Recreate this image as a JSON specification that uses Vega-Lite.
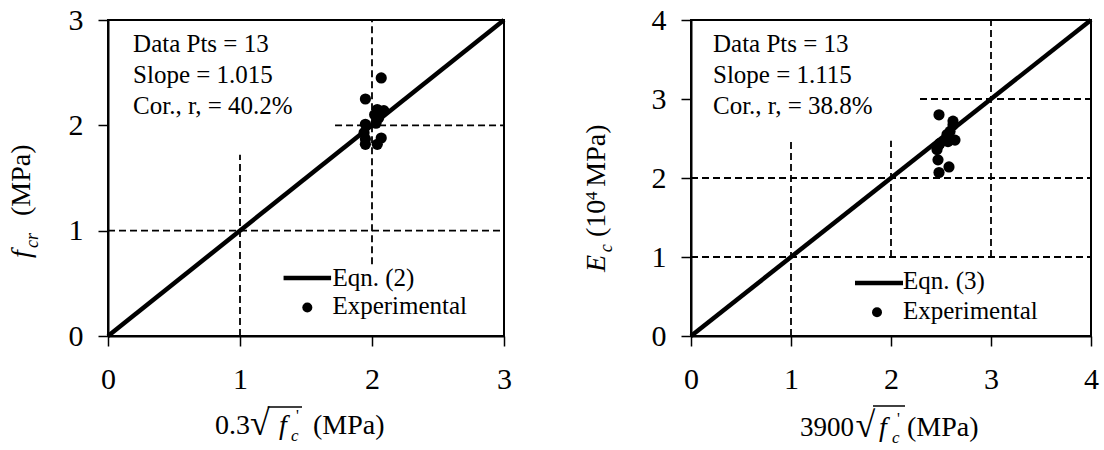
{
  "$schema": "https://vega.github.io/schema/vega-lite/v6.json",
  "padding": {"left": 6, "top": 4, "right": 0, "bottom": 0},
  "bounds": "flush",
  "spacing": 187,
  "datasets": {
    "fcr": [
      {"xv": 2.07, "fcr": 2.45}, {"xv": 1.95, "fcr": 2.25}, {"xv": 2.04, "fcr": 2.15},
      {"xv": 2.09, "fcr": 2.14}, {"xv": 2.05, "fcr": 2.07}, {"xv": 2.03, "fcr": 2.02},
      {"xv": 1.95, "fcr": 2.01}, {"xv": 1.94, "fcr": 1.93}, {"xv": 1.95, "fcr": 1.87},
      {"xv": 1.95, "fcr": 1.82}, {"xv": 2.04, "fcr": 1.82}, {"xv": 2.07, "fcr": 1.88},
      {"xv": 2.02, "fcr": 2.10}
    ],
    "ec": [
      {"xv": 2.48, "ec": 2.80}, {"xv": 2.62, "ec": 2.72}, {"xv": 2.62, "ec": 2.67},
      {"xv": 2.56, "ec": 2.55}, {"xv": 2.59, "ec": 2.59}, {"xv": 2.64, "ec": 2.48},
      {"xv": 2.57, "ec": 2.46}, {"xv": 2.49, "ec": 2.44}, {"xv": 2.48, "ec": 2.42},
      {"xv": 2.46, "ec": 2.36}, {"xv": 2.47, "ec": 2.23}, {"xv": 2.58, "ec": 2.14},
      {"xv": 2.48, "ec": 2.07}
    ],
    "eqn2": [{"xv": 0, "yv": 0}, {"xv": 3, "yv": 3}],
    "eqn3": [{"xv": 0, "yv": 0}, {"xv": 4, "yv": 4}],
    "one": [{}],
    "gridL": [
      {"x1": 1, "y1": 0, "x2": 1, "y2": 1.72},
      {"x1": 2, "y1": 0.68, "x2": 2, "y2": 3},
      {"x1": 0, "y1": 1, "x2": 3, "y2": 1},
      {"x1": 1.72, "y1": 2, "x2": 3, "y2": 2}
    ],
    "gridR": [
      {"x1": 1, "y1": 0, "x2": 1, "y2": 2.47},
      {"x1": 2, "y1": 1, "x2": 2, "y2": 2.47},
      {"x1": 3, "y1": 1, "x2": 3, "y2": 4},
      {"x1": 0, "y1": 1, "x2": 4, "y2": 1},
      {"x1": 0, "y1": 2, "x2": 4, "y2": 2},
      {"x1": 2.29, "y1": 3, "x2": 4, "y2": 3}
    ]
  },
  "hconcat": [
    {
      "width": 396,
      "height": 316,
      "layer": [
        {
          "data": {"name": "gridL"},
          "mark": {"type": "rule", "color": "black", "strokeWidth": 1.8, "strokeDash": [7, 4]},
          "encoding": {
            "x": {"field": "x1", "type": "quantitative", "title": null,
                  "scale": {"domain": [0, 3], "nice": false},
                  "axis": {"values": [0, 1, 2, 3], "format": "d", "labelPadding": 18}},
            "y": {"field": "y1", "type": "quantitative", "title": null,
                  "scale": {"domain": [0, 3], "nice": false},
                  "axis": {"values": [0, 1, 2, 3], "format": "d", "labelPadding": 15}},
            "x2": {"field": "x2"},
            "y2": {"field": "y2"}
          }
        },
        {
          "data": {"name": "eqn2"},
          "mark": {"type": "line", "color": "black", "strokeWidth": 4.5},
          "encoding": {
            "x": {"field": "xv", "type": "quantitative", "title": null},
            "y": {"field": "yv", "type": "quantitative", "title": null}
          }
        },
        {
          "data": {"name": "fcr"},
          "mark": {"type": "circle", "color": "black", "opacity": 1, "size": 125},
          "encoding": {
            "x": {"field": "xv", "type": "quantitative", "title": null},
            "y": {"field": "fcr", "type": "quantitative", "title": null}
          }
        },
        {
          "data": {"name": "one"},
          "mark": {"type": "text", "font": "Liberation Serif, Times New Roman, serif", "fontSize": 25, "align": "left", "baseline": "alphabetic", "lineHeight": 31, "color": "black"},
          "encoding": {
            "x": {"datum": 0.19, "type": "quantitative", "title": null},
            "y": {"datum": 2.696, "type": "quantitative", "title": null},
            "text": {"value": ["Data Pts = 13", "Slope = 1.015", "Cor., r, = 40.2%"]}
          }
        },
        {
          "data": {"name": "one"},
          "mark": {"type": "rule", "color": "black", "strokeWidth": 4.5},
          "encoding": {
            "x": {"datum": 1.33, "type": "quantitative", "title": null},
            "x2": {"datum": 1.69},
            "y": {"datum": 0.55, "type": "quantitative", "title": null}
          }
        },
        {
          "data": {"name": "one"},
          "mark": {"type": "circle", "color": "black", "opacity": 1, "size": 100},
          "encoding": {
            "x": {"datum": 1.51, "type": "quantitative", "title": null},
            "y": {"datum": 0.27, "type": "quantitative", "title": null}
          }
        },
        {
          "data": {"name": "one"},
          "mark": {"type": "text", "font": "Liberation Serif, Times New Roman, serif", "fontSize": 25, "align": "left", "baseline": "middle", "color": "black"},
          "encoding": {
            "x": {"datum": 1.70, "type": "quantitative", "title": null},
            "y": {"datum": 0.55, "type": "quantitative", "title": null},
            "text": {"value": "Eqn. (2)"}
          }
        },
        {
          "data": {"name": "one"},
          "mark": {"type": "text", "font": "Liberation Serif, Times New Roman, serif", "fontSize": 25, "align": "left", "baseline": "middle", "color": "black"},
          "encoding": {
            "x": {"datum": 1.70, "type": "quantitative", "title": null},
            "y": {"datum": 0.285, "type": "quantitative", "title": null},
            "text": {"value": "Experimental"}
          }
        },
        {
          "data": {"name": "one"},
          "mark": {"type": "text", "font": "Liberation Serif, Times New Roman, serif", "fontSize": 28, "align": "left", "baseline": "alphabetic", "color": "black"},
          "encoding": {
            "x": {"datum": 0.811, "type": "quantitative", "title": null},
            "y": {"datum": -0.93, "type": "quantitative", "title": null},
            "text": {"value": "0.3"}
          }
        },
        {
          "data": {"name": "one"},
          "mark": {"type": "text", "font": "Liberation Serif, Times New Roman, serif", "fontSize": 36, "align": "left", "baseline": "alphabetic", "color": "black"},
          "encoding": {
            "x": {"datum": 1.076, "type": "quantitative", "title": null},
            "y": {"datum": -0.94, "type": "quantitative", "title": null},
            "text": {"value": "√"}
          }
        },
        {
          "data": {"name": "one"},
          "mark": {"type": "rule", "color": "black", "strokeWidth": 1.5},
          "encoding": {
            "x": {"datum": 1.21, "type": "quantitative", "title": null},
            "x2": {"datum": 1.47},
            "y": {"datum": -0.674, "type": "quantitative", "title": null}
          }
        },
        {
          "data": {"name": "one"},
          "mark": {"type": "text", "font": "Liberation Serif, Times New Roman, serif", "fontSize": 28, "fontStyle": "italic", "align": "left", "baseline": "alphabetic", "color": "black"},
          "encoding": {
            "x": {"datum": 1.295, "type": "quantitative", "title": null},
            "y": {"datum": -0.93, "type": "quantitative", "title": null},
            "text": {"value": "f"}
          }
        },
        {
          "data": {"name": "one"},
          "mark": {"type": "text", "font": "Liberation Serif, Times New Roman, serif", "fontSize": 17, "fontStyle": "italic", "align": "left", "baseline": "alphabetic", "color": "black"},
          "encoding": {
            "x": {"datum": 1.386, "type": "quantitative", "title": null},
            "y": {"datum": -1.0, "type": "quantitative", "title": null},
            "text": {"value": "c"}
          }
        },
        {
          "data": {"name": "one"},
          "mark": {"type": "text", "font": "Liberation Serif, Times New Roman, serif", "fontSize": 16, "align": "left", "baseline": "alphabetic", "color": "black"},
          "encoding": {
            "x": {"datum": 1.424, "type": "quantitative", "title": null},
            "y": {"datum": -0.81, "type": "quantitative", "title": null},
            "text": {"value": "'"}
          }
        },
        {
          "data": {"name": "one"},
          "mark": {"type": "text", "font": "Liberation Serif, Times New Roman, serif", "fontSize": 28, "align": "left", "baseline": "alphabetic", "color": "black"},
          "encoding": {
            "x": {"datum": 1.553, "type": "quantitative", "title": null},
            "y": {"datum": -0.93, "type": "quantitative", "title": null},
            "text": {"value": "(MPa)"}
          }
        },
        {
          "data": {"name": "one"},
          "mark": {"type": "text", "font": "Liberation Serif, Times New Roman, serif", "fontSize": 28, "fontStyle": "italic", "angle": 270, "align": "left", "baseline": "alphabetic", "color": "black"},
          "encoding": {
            "x": {"datum": -0.591, "type": "quantitative", "title": null},
            "y": {"datum": 0.74, "type": "quantitative", "title": null},
            "text": {"value": "f"}
          }
        },
        {
          "data": {"name": "one"},
          "mark": {"type": "text", "font": "Liberation Serif, Times New Roman, serif", "fontSize": 18, "fontStyle": "italic", "angle": 270, "align": "left", "baseline": "alphabetic", "color": "black"},
          "encoding": {
            "x": {"datum": -0.53, "type": "quantitative", "title": null},
            "y": {"datum": 0.835, "type": "quantitative", "title": null},
            "text": {"value": "cr"}
          }
        },
        {
          "data": {"name": "one"},
          "mark": {"type": "text", "font": "Liberation Serif, Times New Roman, serif", "fontSize": 28, "angle": 270, "align": "left", "baseline": "alphabetic", "color": "black"},
          "encoding": {
            "x": {"datum": -0.591, "type": "quantitative", "title": null},
            "y": {"datum": 1.139, "type": "quantitative", "title": null},
            "text": {"value": "(MPa)"}
          }
        }
      ]
    },
    {
      "width": 400,
      "height": 316,
      "layer": [
        {
          "data": {"name": "gridR"},
          "mark": {"type": "rule", "color": "black", "strokeWidth": 1.8, "strokeDash": [7, 4]},
          "encoding": {
            "x": {"field": "x1", "type": "quantitative", "title": null,
                  "scale": {"domain": [0, 4], "nice": false},
                  "axis": {"values": [0, 1, 2, 3, 4], "format": "d", "labelPadding": 18}},
            "y": {"field": "y1", "type": "quantitative", "title": null,
                  "scale": {"domain": [0, 4], "nice": false},
                  "axis": {"values": [0, 1, 2, 3, 4], "format": "d", "labelPadding": 15}},
            "x2": {"field": "x2"},
            "y2": {"field": "y2"}
          }
        },
        {
          "data": {"name": "eqn3"},
          "mark": {"type": "line", "color": "black", "strokeWidth": 4.5},
          "encoding": {
            "x": {"field": "xv", "type": "quantitative", "title": null},
            "y": {"field": "yv", "type": "quantitative", "title": null}
          }
        },
        {
          "data": {"name": "ec"},
          "mark": {"type": "circle", "color": "black", "opacity": 1, "size": 125},
          "encoding": {
            "x": {"field": "xv", "type": "quantitative", "title": null},
            "y": {"field": "ec", "type": "quantitative", "title": null}
          }
        },
        {
          "data": {"name": "one"},
          "mark": {"type": "text", "font": "Liberation Serif, Times New Roman, serif", "fontSize": 25, "align": "left", "baseline": "alphabetic", "lineHeight": 31, "color": "black"},
          "encoding": {
            "x": {"datum": 0.22, "type": "quantitative", "title": null},
            "y": {"datum": 3.595, "type": "quantitative", "title": null},
            "text": {"value": ["Data Pts = 13", "Slope = 1.115", "Cor., r, = 38.8%"]}
          }
        },
        {
          "data": {"name": "one"},
          "mark": {"type": "rule", "color": "black", "strokeWidth": 4.5},
          "encoding": {
            "x": {"datum": 1.64, "type": "quantitative", "title": null},
            "x2": {"datum": 2.12},
            "y": {"datum": 0.67, "type": "quantitative", "title": null}
          }
        },
        {
          "data": {"name": "one"},
          "mark": {"type": "circle", "color": "black", "opacity": 1, "size": 100},
          "encoding": {
            "x": {"datum": 1.86, "type": "quantitative", "title": null},
            "y": {"datum": 0.30, "type": "quantitative", "title": null}
          }
        },
        {
          "data": {"name": "one"},
          "mark": {"type": "text", "font": "Liberation Serif, Times New Roman, serif", "fontSize": 25, "align": "left", "baseline": "middle", "color": "black"},
          "encoding": {
            "x": {"datum": 2.12, "type": "quantitative", "title": null},
            "y": {"datum": 0.70, "type": "quantitative", "title": null},
            "text": {"value": "Eqn. (3)"}
          }
        },
        {
          "data": {"name": "one"},
          "mark": {"type": "text", "font": "Liberation Serif, Times New Roman, serif", "fontSize": 25, "align": "left", "baseline": "middle", "color": "black"},
          "encoding": {
            "x": {"datum": 2.12, "type": "quantitative", "title": null},
            "y": {"datum": 0.32, "type": "quantitative", "title": null},
            "text": {"value": "Experimental"}
          }
        },
        {
          "data": {"name": "one"},
          "mark": {"type": "text", "font": "Liberation Serif, Times New Roman, serif", "fontSize": 27, "align": "left", "baseline": "alphabetic", "color": "black"},
          "encoding": {
            "x": {"datum": 1.09, "type": "quantitative", "title": null},
            "y": {"datum": -1.266, "type": "quantitative", "title": null},
            "text": {"value": "3900"}
          }
        },
        {
          "data": {"name": "one"},
          "mark": {"type": "text", "font": "Liberation Serif, Times New Roman, serif", "fontSize": 36, "align": "left", "baseline": "alphabetic", "color": "black"},
          "encoding": {
            "x": {"datum": 1.645, "type": "quantitative", "title": null},
            "y": {"datum": -1.28, "type": "quantitative", "title": null},
            "text": {"value": "√"}
          }
        },
        {
          "data": {"name": "one"},
          "mark": {"type": "rule", "color": "black", "strokeWidth": 1.5},
          "encoding": {
            "x": {"datum": 1.82, "type": "quantitative", "title": null},
            "x2": {"datum": 2.14},
            "y": {"datum": -0.886, "type": "quantitative", "title": null}
          }
        },
        {
          "data": {"name": "one"},
          "mark": {"type": "text", "font": "Liberation Serif, Times New Roman, serif", "fontSize": 28, "fontStyle": "italic", "align": "left", "baseline": "alphabetic", "color": "black"},
          "encoding": {
            "x": {"datum": 1.88, "type": "quantitative", "title": null},
            "y": {"datum": -1.266, "type": "quantitative", "title": null},
            "text": {"value": "f"}
          }
        },
        {
          "data": {"name": "one"},
          "mark": {"type": "text", "font": "Liberation Serif, Times New Roman, serif", "fontSize": 17, "fontStyle": "italic", "align": "left", "baseline": "alphabetic", "color": "black"},
          "encoding": {
            "x": {"datum": 2.01, "type": "quantitative", "title": null},
            "y": {"datum": -1.36, "type": "quantitative", "title": null},
            "text": {"value": "c"}
          }
        },
        {
          "data": {"name": "one"},
          "mark": {"type": "text", "font": "Liberation Serif, Times New Roman, serif", "fontSize": 16, "align": "left", "baseline": "alphabetic", "color": "black"},
          "encoding": {
            "x": {"datum": 2.06, "type": "quantitative", "title": null},
            "y": {"datum": -1.11, "type": "quantitative", "title": null},
            "text": {"value": "'"}
          }
        },
        {
          "data": {"name": "one"},
          "mark": {"type": "text", "font": "Liberation Serif, Times New Roman, serif", "fontSize": 28, "align": "left", "baseline": "alphabetic", "color": "black"},
          "encoding": {
            "x": {"datum": 2.16, "type": "quantitative", "title": null},
            "y": {"datum": -1.266, "type": "quantitative", "title": null},
            "text": {"value": "(MPa)"}
          }
        },
        {
          "data": {"name": "one"},
          "mark": {"type": "text", "font": "Liberation Serif, Times New Roman, serif", "fontSize": 28, "fontStyle": "italic", "angle": 270, "align": "left", "baseline": "alphabetic", "color": "black"},
          "encoding": {
            "x": {"datum": -0.86, "type": "quantitative", "title": null},
            "y": {"datum": 0.81, "type": "quantitative", "title": null},
            "text": {"value": "E"}
          }
        },
        {
          "data": {"name": "one"},
          "mark": {"type": "text", "font": "Liberation Serif, Times New Roman, serif", "fontSize": 18, "fontStyle": "italic", "angle": 270, "align": "left", "baseline": "alphabetic", "color": "black"},
          "encoding": {
            "x": {"datum": -0.79, "type": "quantitative", "title": null},
            "y": {"datum": 1.06, "type": "quantitative", "title": null},
            "text": {"value": "c"}
          }
        },
        {
          "data": {"name": "one"},
          "mark": {"type": "text", "font": "Liberation Serif, Times New Roman, serif", "fontSize": 28, "angle": 270, "align": "left", "baseline": "alphabetic", "color": "black"},
          "encoding": {
            "x": {"datum": -0.86, "type": "quantitative", "title": null},
            "y": {"datum": 1.253, "type": "quantitative", "title": null},
            "text": {"value": "(10"}
          }
        },
        {
          "data": {"name": "one"},
          "mark": {"type": "text", "font": "Liberation Serif, Times New Roman, serif", "fontSize": 17, "angle": 270, "align": "left", "baseline": "alphabetic", "color": "black"},
          "encoding": {
            "x": {"datum": -0.94, "type": "quantitative", "title": null},
            "y": {"datum": 1.72, "type": "quantitative", "title": null},
            "text": {"value": "4"}
          }
        },
        {
          "data": {"name": "one"},
          "mark": {"type": "text", "font": "Liberation Serif, Times New Roman, serif", "fontSize": 28, "angle": 270, "align": "left", "baseline": "alphabetic", "color": "black"},
          "encoding": {
            "x": {"datum": -0.86, "type": "quantitative", "title": null},
            "y": {"datum": 1.89, "type": "quantitative", "title": null},
            "text": {"value": "MPa)"}
          }
        }
      ]
    }
  ],
  "config": {
    "view": {"stroke": "black", "strokeWidth": 2},
    "axis": {
      "grid": false,
      "domainColor": "black",
      "domainWidth": 2,
      "tickColor": "black",
      "tickWidth": 1.5,
      "tickSize": 10,
      "labelFont": "Liberation Serif, Times New Roman, serif",
      "labelFontSize": 30,
      "labelColor": "black",
      "labelFlush": false
    }
  }
}
